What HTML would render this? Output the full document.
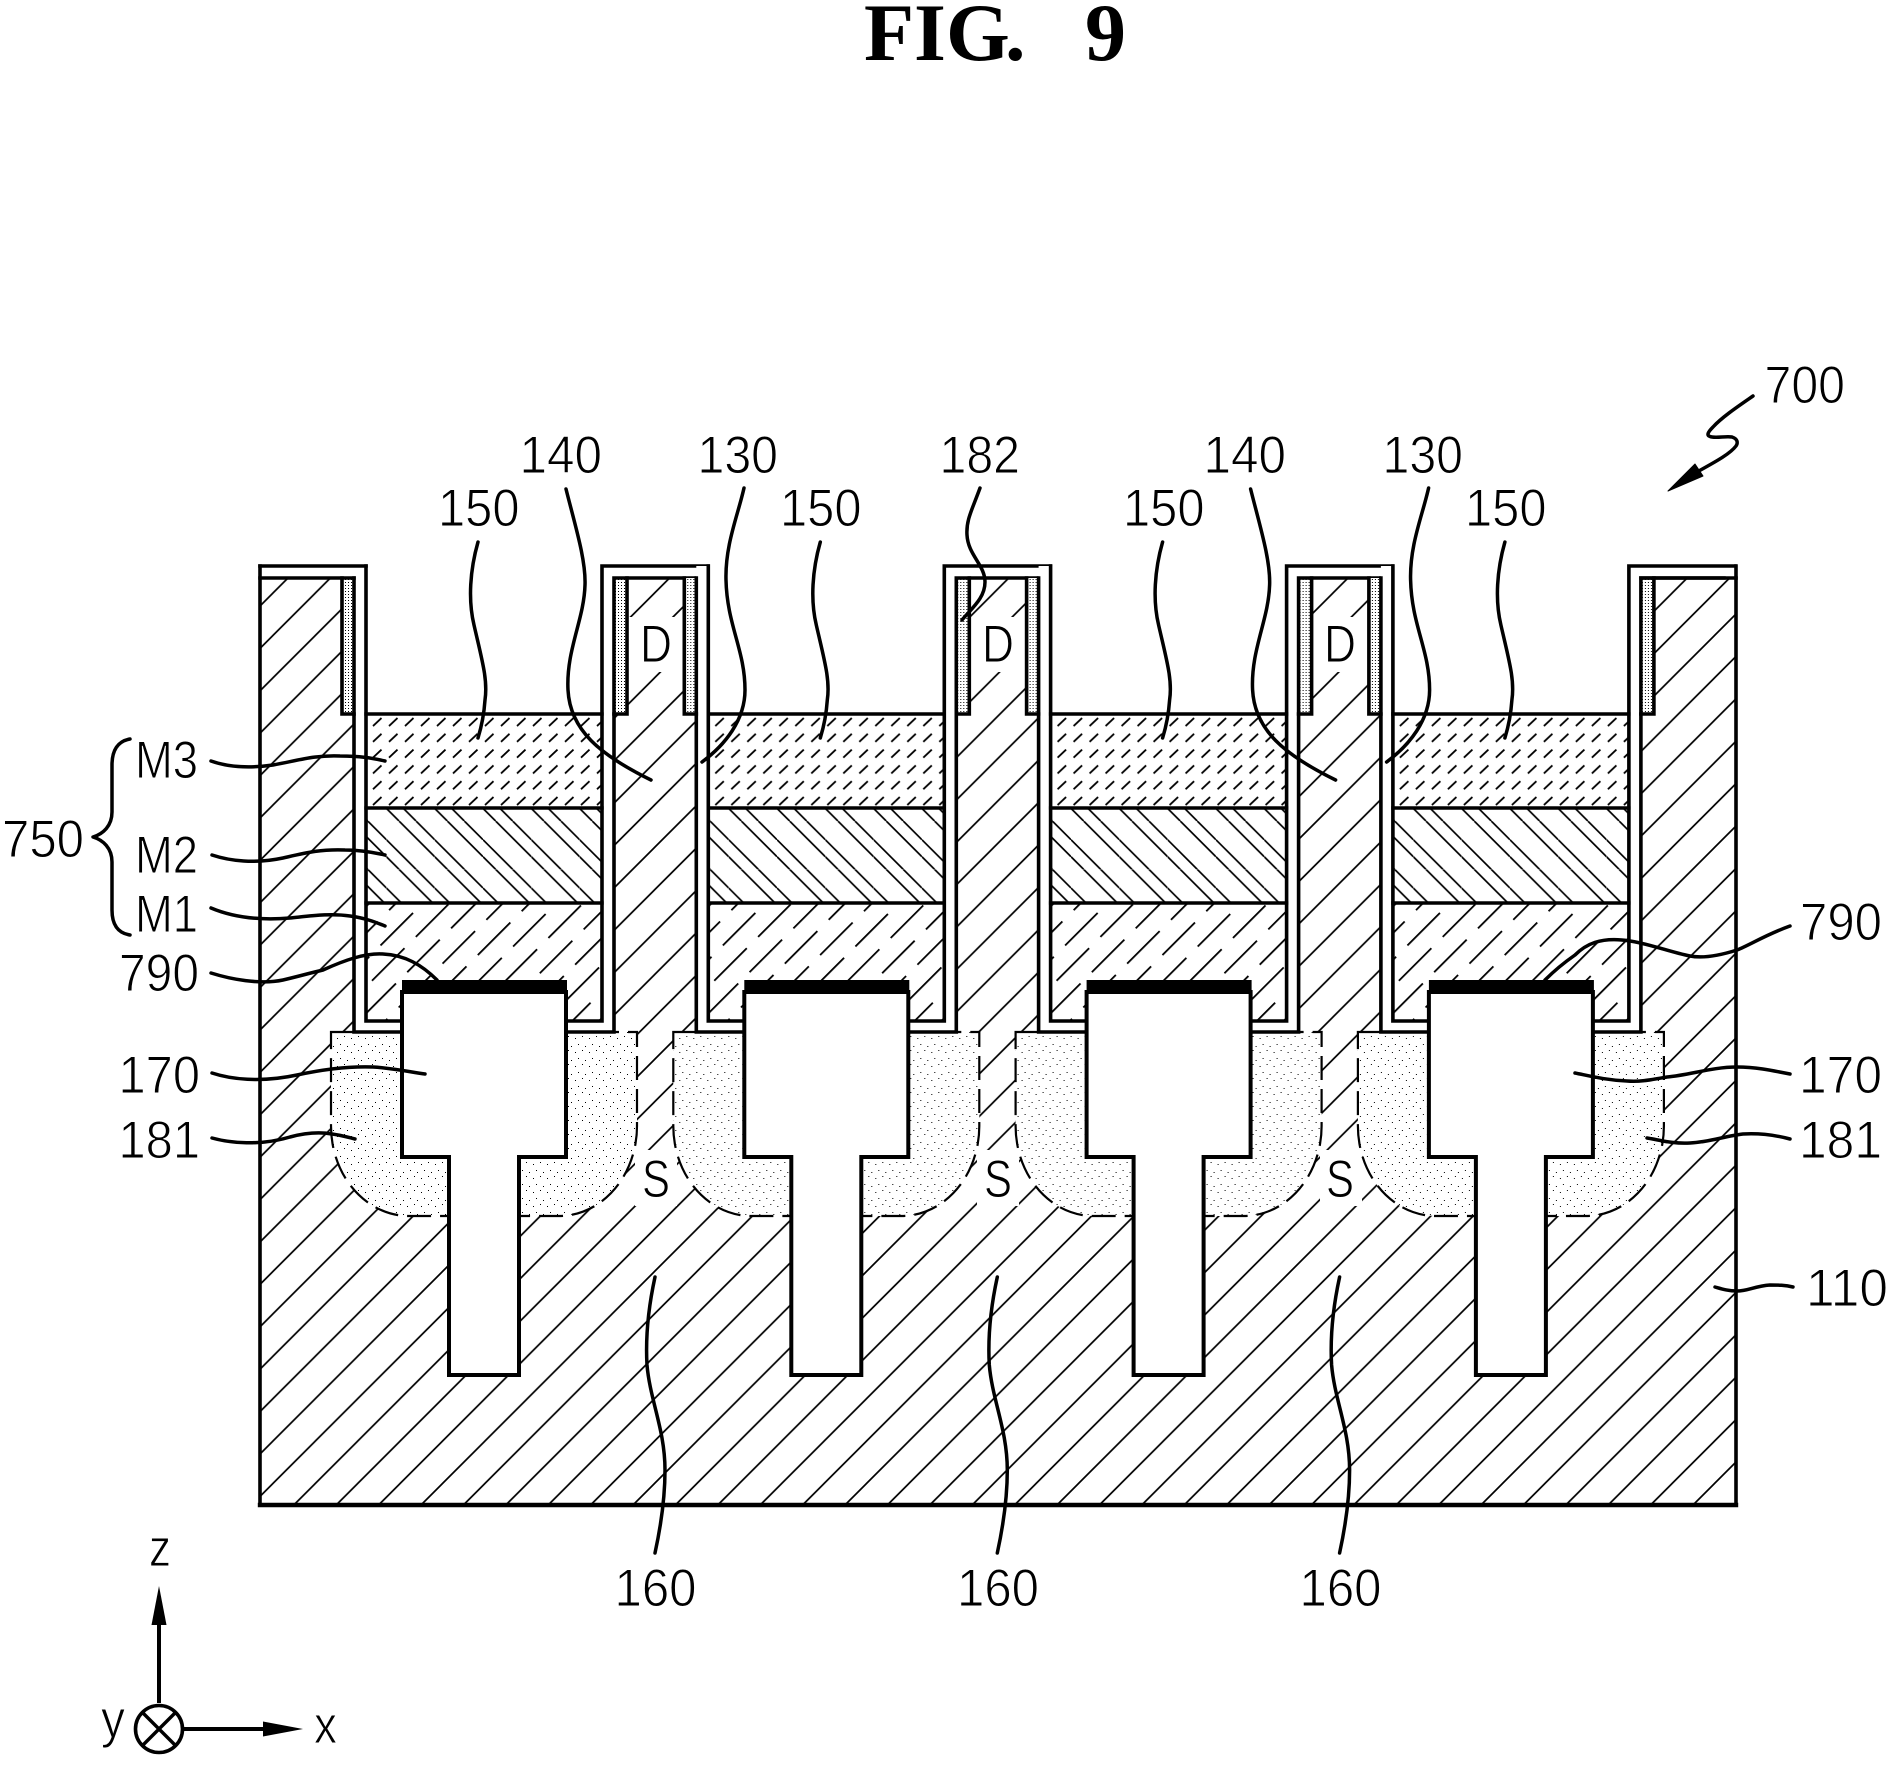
<!DOCTYPE html>
<html lang="en">
<head>
<meta charset="utf-8">
<title>FIG. 9</title>
<style>
html,body{margin:0;padding:0;background:#fff}
svg{display:block}
.l{font-family:"Liberation Sans",sans-serif;font-size:53px;fill:#000;stroke:#fff;stroke-width:1px}
.t{font-family:"Liberation Serif",serif;font-weight:bold;font-size:82px;fill:#000}
.k{fill:none;stroke:#000;stroke-width:3.5;stroke-linecap:round;stroke-linejoin:round}
.s{fill:none;stroke:#000;stroke-width:3.6;stroke-linecap:square;stroke-linejoin:miter}
</style>
</head>
<body>
<svg xmlns="http://www.w3.org/2000/svg" width="1903" height="1782" viewBox="0 0 1903 1782">
<defs>
<pattern id="hatch" width="42.4" height="42.4" patternUnits="userSpaceOnUse" patternTransform="translate(18 0)">
<path d="M-2 44.4L44.4 -2M-2 2L2 -2M40.4 44.4L44.4 40.4" stroke="#000" stroke-width="1.7" fill="none"/>
</pattern>
<pattern id="m1" width="62" height="37.8" patternUnits="userSpaceOnUse" patternTransform="translate(10 5) rotate(-45)">
<rect x="0" y="0" width="46" height="1.8" fill="#000"/>
<rect x="31" y="18.9" width="46" height="1.8" fill="#000"/>
<rect x="-31" y="18.9" width="46" height="1.8" fill="#000"/>
</pattern>
<pattern id="m2" width="48.3" height="48.3" patternUnits="userSpaceOnUse">
<path d="M12.7 0L48.3 35.6M0 35.6L12.7 48.3M29.7 0L48.3 18.6M0 18.6L29.7 48.3" stroke="#000" stroke-width="1.7" fill="none"/>
</pattern>
<pattern id="m3" width="16" height="15.8" patternUnits="userSpaceOnUse" patternTransform="translate(2 3)">
<path d="M3 12L11.5 4" stroke="#000" stroke-width="1.8" fill="none"/>
</pattern>
<pattern id="dots" width="14" height="14" patternUnits="userSpaceOnUse">
<rect x="1" y="2" width="1" height="1" fill="#000"/>
<rect x="8" y="0" width="1" height="1" fill="#000"/>
<rect x="4" y="8" width="1" height="1" fill="#000"/>
<rect x="11" y="10" width="1" height="1" fill="#000"/>
</pattern>
<pattern id="dense" width="3" height="3" patternUnits="userSpaceOnUse">
<rect x="0" y="0" width="1" height="1" fill="#000"/>
</pattern>
<g id="u">
<rect x="354" y="566" width="260" height="466" fill="#fff"/>
<path d="M331 1032H637V1126A78 90 0 0 1 559 1216H409A78 90 0 0 1 331 1126Z" fill="#fff"/>
<path d="M331 1032H637V1126A78 90 0 0 1 559 1216H409A78 90 0 0 1 331 1126Z" fill="url(#dots)"/>
<path d="M331 1032H637V1126A78 90 0 0 1 559 1216H409A78 90 0 0 1 331 1126Z" fill="none" stroke="#000" stroke-width="2.2" stroke-dasharray="24 9"/>
<rect x="366" y="714" width="236" height="94" fill="url(#m3)"/>
<rect x="366" y="808" width="236" height="95" fill="url(#m2)"/>
<rect x="366" y="903" width="236" height="118" fill="url(#m1)"/>
<rect x="342" y="578" width="12" height="136" fill="#fff"/>
<rect x="342" y="578" width="12" height="136" fill="url(#dense)"/>
<rect x="614" y="578" width="12" height="136" fill="#fff"/>
<rect x="614" y="578" width="12" height="136" fill="url(#dense)"/>
<path class="s" d="M366 566V1021H402M566 1021H602V566H708"/>
<path class="s" d="M354 578V1032H402M566 1032H614V578H697"/>
<path class="s" d="M342 578V714H354M614 714H627V578"/>
<path class="s" style="stroke-width:3.4" d="M366 714H602M366 808H602M366 903H602"/>
<rect x="402" y="980" width="165" height="13" fill="#000"/>
<path d="M402 992H566V1157H519V1375H449V1157H402Z" fill="#fff" stroke="#000" stroke-width="4" stroke-linejoin="miter"/>
</g>
<path id="L150" d="M478 542C470 570 468 600 474 625C482 660 488 680 485 700C484 715 482 725 478 738"/>
<path id="L140" d="M566 489C575 525 586 560 585 585C584 620 566 650 568 690C570 730 600 755 651 780"/>
<path id="L130" d="M744 488C738 515 725 545 726 580C727 625 745 650 745 690C745 720 725 745 702 762"/>
<path id="L160" d="M655 1277C650 1300 645 1330 647 1365C650 1400 665 1430 665 1470C665 1500 660 1530 655 1553"/>
</defs>

<rect width="1903" height="1782" fill="#fff"/>

<rect x="260" y="578" width="1476" height="927" fill="url(#hatch)"/>

<!-- clear hatch behind D / S -->
<rect x="627" y="617" width="57" height="55" fill="#fff"/>
<rect x="969" y="617" width="57" height="55" fill="#fff"/>
<rect x="1312" y="617" width="57" height="55" fill="#fff"/>
<rect x="635" y="1150" width="42" height="56" fill="#fff"/>
<rect x="977" y="1150" width="42" height="56" fill="#fff"/>
<rect x="1320" y="1150" width="42" height="56" fill="#fff"/>

<use href="#u"/>
<use href="#u" x="342.3"/>
<use href="#u" x="684.6"/>
<use href="#u" x="1026.9"/>

<path class="s" d="M260 566V1505H1736V566"/>
<path class="s" d="M260 566H366M260 578H354M1641 578H1736"/>
<path class="s" style="stroke-width:4.4" d="M260 1505H1736"/>

<!-- leaders -->
<g class="k">
<use href="#L150"/>
<use href="#L150" x="342.3"/>
<use href="#L150" x="684.6"/>
<use href="#L150" x="1026.9"/>
<use href="#L140"/>
<use href="#L140" x="684.6"/>
<use href="#L130"/>
<use href="#L130" x="684.6"/>
<use href="#L160"/>
<use href="#L160" x="342.3"/>
<use href="#L160" x="684.6"/>
<path d="M980 488C972 510 966 520 967 535C968 555 985 565 985 582C985 598 972 608 962 620"/>
<path d="M130 739C118 741 112 750 112 765L112 812C112 826 103 834 93 837C103 840 112 848 112 862L112 910C112 925 118 933 130 935"/>
<path d="M211 761C225 766 245 769 273 765C300 760 315 755 340 756C360 756 372 758 385 761"/>
<path d="M212 855C230 861 255 864 283 858C305 853 320 849 345 850C360 850 372 852 385 855"/>
<path d="M211 908C230 916 255 921 290 918C310 916 330 913 350 916C365 918 375 922 385 926"/>
<path d="M211 973C230 979 260 985 283 980C300 976 310 973 323 970C345 960 365 953 383 954C405 955 422 965 437 980"/>
<path d="M212 1073C230 1079 260 1083 297 1075C320 1070 345 1066 373 1067C390 1068 405 1071 425 1074"/>
<path d="M212 1138C230 1143 260 1146 290 1137C305 1133 320 1132 332 1134C340 1135 347 1137 355 1139"/>
<path d="M1790 926C1765 935 1750 945 1737 950C1715 957 1700 958 1690 956C1670 952 1650 944 1630 941C1600 936 1585 945 1575 955C1565 962 1555 970 1545 980"/>
<path d="M1790 1074C1770 1070 1755 1067 1737 1067C1712 1067 1690 1075 1667 1077C1650 1080 1640 1082 1627 1081C1605 1080 1590 1076 1575 1073"/>
<path d="M1790 1139C1775 1135 1760 1133 1743 1134C1725 1136 1710 1142 1690 1143C1672 1144 1660 1140 1647 1138"/>
<path d="M1793 1287C1785 1285 1778 1285 1770 1285C1755 1286 1748 1291 1737 1291C1728 1291 1722 1289 1715 1287"/>
<path d="M1753 396C1740 405 1722 417 1713 427C1707 433 1706 436 1712 437C1718 438 1726 436 1732 437C1738 439 1738 443 1736 446C1730 454 1715 462 1697 472"/>
</g>
<path d="M1668 491L1695 464L1703 476Z" fill="#000" stroke="#000" stroke-width="1" stroke-linejoin="round"/>

<!-- axes -->
<path d="M159 1703V1622" stroke="#000" stroke-width="4" fill="none"/>
<path d="M159 1586L151.500 1625H166.500Z" fill="#000"/>
<circle cx="159" cy="1729" r="23.500" fill="#fff" stroke="#000" stroke-width="3.600"/>
<path d="M142.500 1712.500L175.500 1745.500M175.500 1712.500L142.500 1745.500" stroke="#000" stroke-width="3.400"/>
<path d="M183 1729H266" stroke="#000" stroke-width="4" fill="none"/>
<path d="M303 1729L263 1721.500V1736.500Z" fill="#000"/>

<!-- title -->
<text class="t" y="60"><tspan x="864">F</tspan><tspan x="914">I</tspan><tspan x="946">G</tspan><tspan x="1005">.</tspan> <tspan x="1085">9</tspan></text>

<!-- labels -->
<text class="l" x="1764.500" y="403" textLength="80.500" lengthAdjust="spacingAndGlyphs">700</text>
<text class="l" x="438" y="526" textLength="81.500" lengthAdjust="spacingAndGlyphs">150</text>
<text class="l" x="780" y="526" textLength="81.500" lengthAdjust="spacingAndGlyphs">150</text>
<text class="l" x="1123" y="526" textLength="81.500" lengthAdjust="spacingAndGlyphs">150</text>
<text class="l" x="1465" y="526" textLength="81.500" lengthAdjust="spacingAndGlyphs">150</text>
<text class="l" x="519.500" y="473" textLength="82.500" lengthAdjust="spacingAndGlyphs">140</text>
<text class="l" x="1203.500" y="473" textLength="82.500" lengthAdjust="spacingAndGlyphs">140</text>
<text class="l" x="697.500" y="473" textLength="80.500" lengthAdjust="spacingAndGlyphs">130</text>
<text class="l" x="1382.500" y="473" textLength="80.500" lengthAdjust="spacingAndGlyphs">130</text>
<text class="l" x="939.500" y="473" textLength="80.500" lengthAdjust="spacingAndGlyphs">182</text>
<text class="l" x="2" y="857" textLength="82" lengthAdjust="spacingAndGlyphs">750</text>
<text class="l" x="135" y="778" textLength="63" lengthAdjust="spacingAndGlyphs">M3</text>
<text class="l" x="135" y="873" textLength="63" lengthAdjust="spacingAndGlyphs">M2</text>
<text class="l" x="135" y="932" textLength="63" lengthAdjust="spacingAndGlyphs">M1</text>
<text class="l" x="119" y="991" textLength="80" lengthAdjust="spacingAndGlyphs">790</text>
<text class="l" x="118.500" y="1093" textLength="81.500" lengthAdjust="spacingAndGlyphs">170</text>
<text class="l" x="118.500" y="1158" textLength="81.500" lengthAdjust="spacingAndGlyphs">181</text>
<text class="l" x="1800" y="940" textLength="82" lengthAdjust="spacingAndGlyphs">790</text>
<text class="l" x="1799" y="1093" textLength="83" lengthAdjust="spacingAndGlyphs">170</text>
<text class="l" x="1799" y="1158" textLength="83" lengthAdjust="spacingAndGlyphs">181</text>
<text class="l" x="1806" y="1306" textLength="82" lengthAdjust="spacingAndGlyphs">110</text>
<text class="l" x="614.500" y="1606" textLength="82" lengthAdjust="spacingAndGlyphs">160</text>
<text class="l" x="957" y="1606" textLength="82" lengthAdjust="spacingAndGlyphs">160</text>
<text class="l" x="1299.500" y="1606" textLength="82" lengthAdjust="spacingAndGlyphs">160</text>
<text class="l" x="640" y="662" textLength="32" lengthAdjust="spacingAndGlyphs">D</text>
<text class="l" x="982" y="662" textLength="32" lengthAdjust="spacingAndGlyphs">D</text>
<text class="l" x="1324" y="662" textLength="32" lengthAdjust="spacingAndGlyphs">D</text>
<text class="l" x="642" y="1197" textLength="28" lengthAdjust="spacingAndGlyphs">S</text>
<text class="l" x="984" y="1197" textLength="28" lengthAdjust="spacingAndGlyphs">S</text>
<text class="l" x="1326" y="1197" textLength="28" lengthAdjust="spacingAndGlyphs">S</text>
<text class="l" x="149" y="1566" textLength="22" lengthAdjust="spacingAndGlyphs">z</text>
<text class="l" x="101" y="1737" textLength="24" lengthAdjust="spacingAndGlyphs">y</text>
<text class="l" x="314" y="1743" textLength="23" lengthAdjust="spacingAndGlyphs">x</text>
</svg>
</body>
</html>
